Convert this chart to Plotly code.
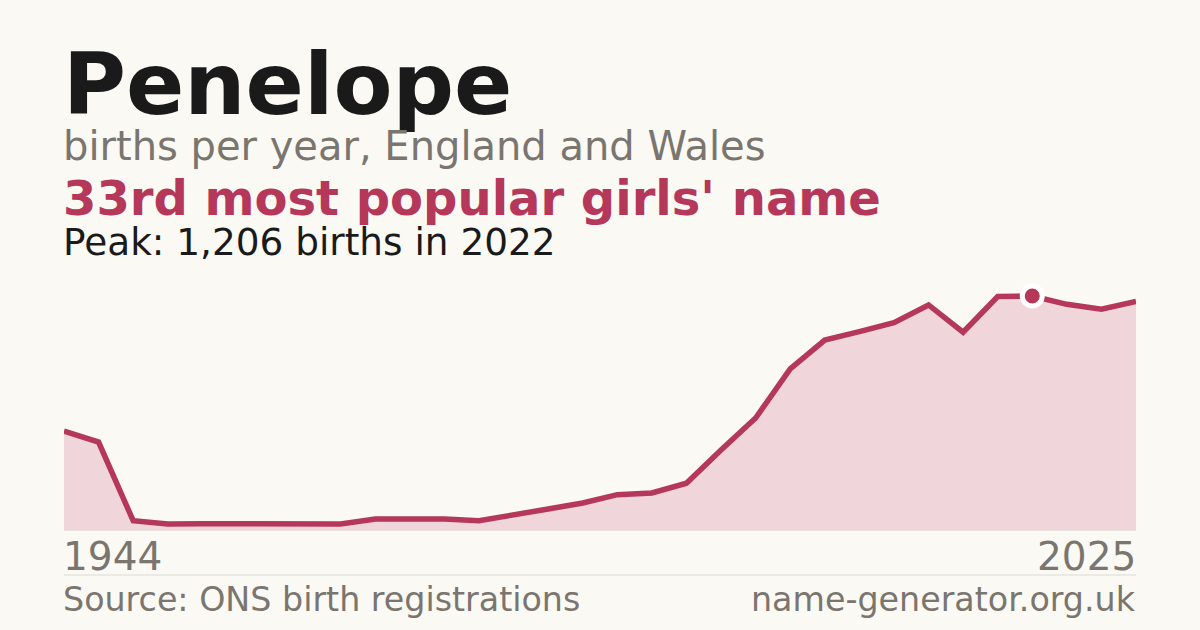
import plotly.graph_objects as go

# ---- data ----
years = ["1944", "1954"] + [str(y) for y in range(1996, 2026)]
births = [510, 453, 48, 31, 32, 31, 34, 31, 31, 57, 60, 57, 48, 81, 108, 139,
          182, 191, 241, 412, 577, 830, 979, 1022, 1069, 1160, 1019, 1203, 1206,
          1163, 1138, 1178]
peak_year = "2022"
peak_value = 1206
name = "Penelope"
subtitle = "births per year, England and Wales"
rank_text = "33rd most popular girls' name"
peak_text = "Peak: 1,206 births in 2022"
source_text = "Source: ONS birth registrations"
site_text = "name-generator.org.uk"

BG = "#FAF9F4"
RED = "#B5375A"
FILL = "#F0D5DA"
GREY = "#7A756E"
DARK = "#1A1A1A"
FONT = "DejaVu Sans"

W, H = 1200, 630
T, B = 280, 100
PH = H - T - B


def py(pix):
    return (H - B - pix) / PH


fig = go.Figure()
fig.add_trace(go.Scatter(
    x=years, y=births, mode="lines", fill="tozeroy",
    fillcolor=FILL, line=dict(color=RED, width=5.5), hoverinfo="skip",
    cliponaxis=False,
))
fig.add_trace(go.Scatter(
    x=[peak_year], y=[peak_value], mode="markers",
    marker=dict(size=20, color=RED, line=dict(color="white", width=5)),
    cliponaxis=False, hoverinfo="skip",
))

fig.update_layout(
    width=W, height=H,
    paper_bgcolor=BG, plot_bgcolor=BG,
    margin=dict(l=64, r=64, t=T, b=B, pad=0),
    showlegend=False,
    font=dict(family=FONT),
    xaxis=dict(type="category", range=[0, len(years) - 1], showgrid=False,
               zeroline=False, showticklabels=False, ticks="",
               showline=True, linecolor="#E6E2DC", linewidth=1),
    yaxis=dict(range=[0, peak_value * PH / 234], showgrid=False,
               zeroline=False, showticklabels=False, ticks="", showline=False),
)

anns = [
    dict(text=f"<b>{name}</b>", y=py(84), size=86, color=DARK, x=0, xa="left"),
    dict(text=subtitle, y=py(146), size=40, color=GREY, x=0, xa="left"),
    dict(text=f"<b>{rank_text}</b>", y=py(198), size=48, color=RED, x=0, xa="left"),
    dict(text=peak_text, y=py(242), size=37.4, color=DARK, x=0, xa="left"),
    dict(text=years[0], y=py(556), size=39, color=GREY, x=0, xa="left"),
    dict(text=years[-1], y=py(556), size=39, color=GREY, x=1, xa="right"),
    dict(text=source_text, y=py(599), size=33.3, color=GREY, x=0, xa="left"),
    dict(text=site_text, y=py(599), size=33.3, color=GREY, x=1, xa="right"),
]
for a in anns:
    fig.add_annotation(
        text=a["text"], x=a["x"], y=a["y"], xref="paper", yref="paper",
        xanchor=a["xa"], yanchor="middle", showarrow=False,
        font=dict(family=FONT, size=a["size"], color=a["color"]),
        borderpad=0, xshift=-2 if a["xa"] == "left" else 1,
    )

fig.add_shape(type="line", xref="paper", yref="paper", x0=0, x1=1,
              y0=py(575), y1=py(575), line=dict(color="#DDD9D2", width=1))

fig.write_html(
    "out.html",
    config={"displayModeBar": False, "staticPlot": True},
    post_script=(
        "document.body.style.margin='0';"
        "document.body.style.padding='0';"
        f"document.body.style.background='{BG}';"
    ),
)
